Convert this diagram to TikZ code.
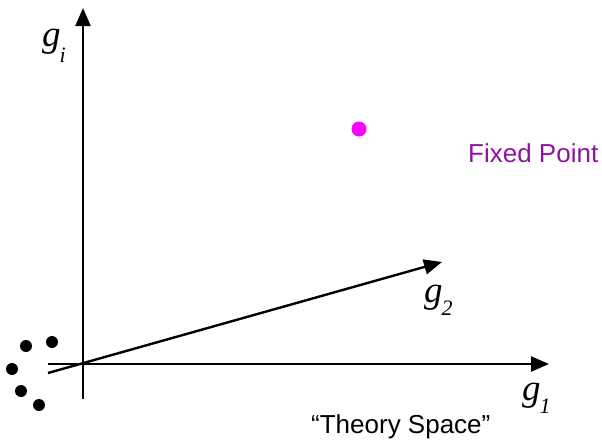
\documentclass[tikz,border=0pt]{standalone}
\usepackage{fontspec}
\setmainfont{Liberation Serif}
\newfontfamily\labelfont{Liberation Sans}
\usetikzlibrary{arrows.meta}
\definecolor{fixmag}{RGB}{255,0,255}
\definecolor{fixtxt}{RGB}{140,20,160}
\newcommand{\coupling}[2][13pt]{{\fontsize{37}{37}\selectfont\itshape g}\kern-1pt\raisebox{-#1}{\fontsize{22}{22}\selectfont\itshape #2}}

\begin{document}
\begin{tikzpicture}[x=1pt, y=-1pt,
  axis/.style={line width=2.4pt, -{Triangle[length=18pt,width=15pt]}},
  blob/.style={circle, fill=black, inner sep=0pt, minimum size=12pt},
  glabel/.style={anchor=base west, inner sep=0pt}]
  \useasboundingbox (0,0) rectangle (602,442);
  % axes
  \coordinate (vbot) at (83,399);
  \coordinate (vtop) at (83,8);
  \coordinate (hleft) at (48,364);
  \coordinate (hright) at (549,364);
  \coordinate (dleft) at (48,373);
  \coordinate (dright) at (442,262);
  \draw[axis] (vbot) -- (vtop);
  \draw[axis] (hleft) -- (hright);
  \draw[axis] (dleft) -- (dright);
  % theories near the origin
  \foreach \i/\x/\y in {1/52/342, 2/26/346, 3/12/369, 4/21/391, 5/39/405} {
    \node[blob] (t\i) at (\x,\y) {};
  }
  % fixed point
  \node[circle, fill=fixmag, inner sep=0pt, minimum size=15pt] (fp) at (359,129) {};
  \node[anchor=base west, inner sep=0pt, text=fixtxt, font=\labelfont\fontsize{26}{30}\selectfont]
    (fplab) at (468,162) {Fixed Point};
  % axis labels
  \node[glabel] (gi) at (42,46) {\coupling[16pt]{i}};
  \node[glabel] (g2) at (424,302) {\coupling{2}};
  \node[glabel] (g1) at (522,400) {\coupling{1}};
  \node[anchor=base west, inner sep=0pt, font=\labelfont\fontsize{26}{30}\selectfont]
    (space) at (311,433) {“Theory Space”};
\end{tikzpicture}
\end{document}
